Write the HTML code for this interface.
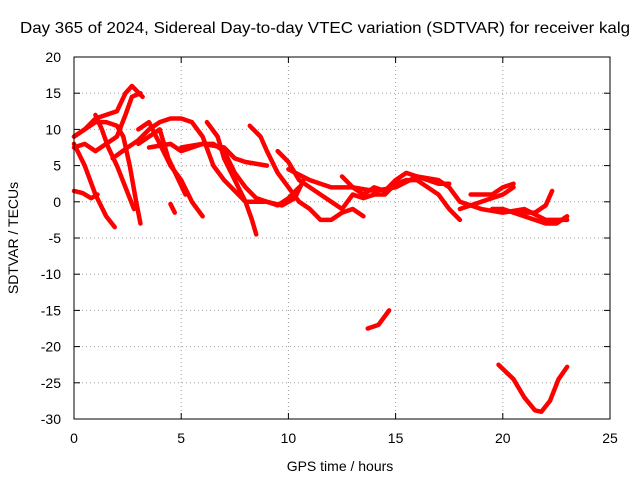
<!DOCTYPE html>
<html><head><meta charset="utf-8"><style>
body{margin:0;background:#fff}
svg{font-family:"Liberation Sans",sans-serif;font-size:14px}
</style></head><body>
<svg width="640" height="480" xmlns="http://www.w3.org/2000/svg">
<rect width="640" height="480" fill="#fff"/>
<g id="grid"></g>
<g id="ticks"></g>
<g id="series"></g>
<rect x="74" y="57" width="536" height="362" fill="none" stroke="#000" stroke-width="1"/>
<text x="20" y="33" textLength="610" lengthAdjust="spacingAndGlyphs" style="font-size:16px">Day 365 of 2024, Sidereal Day-to-day VTEC variation (SDTVAR) for receiver kalg</text>
<text x="340" y="471" text-anchor="middle">GPS time / hours</text>
<text x="18" y="238" text-anchor="middle" transform="rotate(-90 18 238)">SDTVAR / TECUs</text>
</svg>
<script>
const xTicks=[0,5,10,15,20,25];
const yTicks=[20,15,10,5,0,-5,-10,-15,-20,-25,-30];
const tracks=[
[[0,1.5],[0.4,1.2],[0.8,0.5],[1.1,1]],
[[0,8],[0.5,5],[1,1],[1.5,-2],[1.9,-3.5]],
[[0,9],[0.5,10],[1,11],[1.5,11],[2,10.5],[2.3,9],[2.6,5],[2.9,0],[3.1,-3]],
[[0,7.5],[0.5,8],[1,7],[1.5,8],[2,9],[2.4,12],[2.7,14.5],[3.1,15]],
[[0,9],[0.5,10],[1,11.5],[1.5,12],[2,12.5],[2.4,15],[2.7,16],[3.2,14.5]],
[[1,12],[1.3,10],[1.6,7.5],[2,5],[2.4,2],[2.8,-1]],
[[1.8,6],[2.5,7.5],[3,8.5],[3.5,10],[4,11],[4.5,11.5],[5,11.5],[5.5,11],[6,9],[6.5,5],[7,3],[7.5,1.5],[8,0],[9,0],[9.5,-0.5],[10,0.5],[10.5,2]],
[[3,10],[3.5,11],[4,8],[4.5,5],[5,3],[5.5,0],[6,-2]],
[[3,8],[3.5,9],[4,10],[4.4,6],[4.8,3.5],[5.2,1]],
[[4.5,-0.3],[4.7,-1.5]],
[[3.5,7.5],[4.5,8],[5,7],[6,8],[7,7.5],[7.5,6],[8,5.5],[9,5]],
[[6.2,11],[6.7,9],[7,6],[7.5,3],[8,0],[8.3,-2.5],[8.5,-4.5]],
[[5,7.5],[6,8],[6.5,8],[7,7],[7.5,4],[8,2],[8.5,0.5],[9,0],[9.7,-0.5],[10.3,0.5],[10.7,3]],
[[8.2,10.5],[8.7,9],[9,7],[9.5,4],[10,2],[10.5,0],[11,-1],[11.5,-2.5],[12,-2.5],[12.5,-1.5],[13,-1],[13.5,-2]],
[[9.5,7],[10,5.5],[10.5,3],[11,2],[11.5,1],[12,0],[12.5,-1],[13,1],[13.5,0.5],[14,1],[14.5,1],[15,2.5],[15.5,3],[16,3],[16.5,2],[17,1],[17.5,-1],[18,-2.5]],
[[10,4.5],[11,3],[12,2],[13,2],[14,1.5],[15,2],[16,3.5],[17,3],[17.5,2],[18,0],[18.5,-0.5],[19,-1],[20,-1.5],[21,-1],[22,-2.5],[23,-2.5]],
[[12.5,3.5],[13,2],[13.5,1],[14,2],[14.5,1.5],[15,3],[15.5,4],[16,3.5],[16.5,3],[17,2.5],[17.5,2.5]],
[[18.5,1],[19.5,1],[20,2],[20.5,2.5]],
[[18,-1],[19,0],[19.5,0.5],[20,1],[20.5,2]],
[[19.5,-1],[20,-1],[20.5,-1.5],[21,-1.5],[21.5,-1.5],[22,-0.5],[22.3,1.5]],
[[20.5,-1.5],[21,-2],[21.5,-2.5],[22,-3],[22.5,-3],[23,-2]],
[[13.7,-17.5],[14.2,-17],[14.7,-15]],
[[19.8,-22.5],[20.5,-24.5],[21,-27],[21.5,-28.8],[21.8,-29],[22.2,-27.5],[22.6,-24.5],[23,-22.8]]
];
const X0=74,X1=610,Y0=419,Y1=57;
const xs=v=>X0+(v-0)/(25-0)*(X1-X0);
const ys=v=>Y0-(v+30)/(50)*(Y0-Y1);
const NS="http://www.w3.org/2000/svg";
const grid=document.getElementById('grid'),ticks=document.getElementById('ticks'),ser=document.getElementById('series');
function mk(t,a,p){const e=document.createElementNS(NS,t);for(const k in a)e.setAttribute(k,a[k]);p.appendChild(e);return e;}
xTicks.forEach(v=>{const x=xs(v);
 if(v>0&&v<25){const l=mk('line',{x1:x,x2:x,y1:Y0,y2:Y1,stroke:'#a0a0a0','stroke-dasharray':'1,3'},grid);
 
 }
 mk('line',{x1:x,x2:x,y1:Y0,y2:Y0-6,stroke:'#000'},ticks);
 mk('line',{x1:x,x2:x,y1:Y1,y2:Y1+6,stroke:'#000'},ticks);
 const t=mk('text',{x:x,y:Y0+24,'text-anchor':'middle'},ticks);t.textContent=v;
 
 });
yTicks.forEach(v=>{const y=ys(v);
 if(v>-30&&v<20){const l=mk('line',{x1:X0,x2:X1,y1:y,y2:y,stroke:'#a0a0a0','stroke-dasharray':'1,3'},grid);
 
 }
 mk('line',{x1:X0,x2:X0+6,y1:y,y2:y,stroke:'#000'},ticks);
 mk('line',{x1:X1,x2:X1-6,y1:y,y2:y,stroke:'#000'},ticks);
 const t=mk('text',{x:X0-13,y:y+5,'text-anchor':'end'},ticks);t.textContent=v;
 
 });
tracks.forEach((tr,i)=>{
 const p=mk('polyline',{points:tr.map(d=>xs(d[0])+','+ys(d[1])).join(' '),fill:'none',stroke:'#f00','stroke-width':4.5,'stroke-linejoin':'round','stroke-linecap':'round'},ser);
 
 
});
</script>
</body></html>
